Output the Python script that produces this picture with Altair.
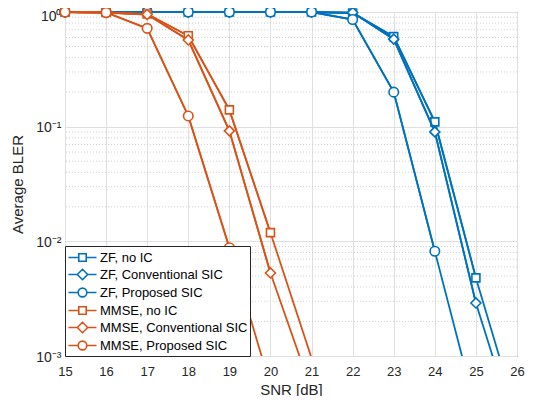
import altair as alt
import pandas as pd

snr = [15, 16, 17, 18, 19, 20, 21, 22, 23, 24, 25, 26]

series_names = [
    "ZF, no IC",
    "ZF, Conventional SIC",
    "ZF, Proposed SIC",
    "MMSE, no IC",
    "MMSE, Conventional SIC",
    "MMSE, Proposed SIC",
]

zf_no_ic = [1.0, 1.0, 1.0, 1.0, 1.0, 1.0, 1.0, 0.98, 0.61, 0.11, 0.0048, 0.0003]
zf_conv_sic = [1.0, 1.0, 1.0, 1.0, 1.0, 1.0, 1.0, 0.99, 0.58, 0.09, 0.0029, 0.00021]
zf_prop_sic = [1.0, 1.0, 1.0, 1.0, 1.0, 1.0, 1.0, 0.86, 0.2, 0.0082, 0.00034]
mmse_no_ic = [1.0, 0.99, 0.96, 0.62, 0.14, 0.0119, 0.00096]
mmse_conv_sic = [1.0, 0.99, 0.95, 0.57, 0.092, 0.0053, 0.0005]
mmse_prop_sic = [1.0, 0.99, 0.72, 0.124, 0.0088, 0.00055]

series_values = [zf_no_ic, zf_conv_sic, zf_prop_sic, mmse_no_ic, mmse_conv_sic, mmse_prop_sic]

blue = "#0072BD"
orange = "#D95319"
series_colors = [blue, blue, blue, orange, orange, orange]
series_shapes = ["square", "diamond", "circle", "square", "diamond", "circle"]
marker_sizes = [64, 100, 90, 64, 100, 90]

x_ticks = [15, 16, 17, 18, 19, 20, 21, 22, 23, 24, 25, 26]
y_ticks = [1.0, 0.1, 0.01, 0.001]
y_tick_labels = ["10⁰", "10⁻¹", "10⁻²", "10⁻³"]
y_minor = [0.002, 0.003, 0.004, 0.005, 0.006, 0.007, 0.008, 0.009,
           0.02, 0.03, 0.04, 0.05, 0.06, 0.07, 0.08, 0.09,
           0.2, 0.3, 0.4, 0.5, 0.6, 0.7, 0.8, 0.9]

# legend symbols: line through marker
legend_paths = [
    "M-1.62,0L-0.43,0M0.43,0L1.62,0M-0.43,-0.43L0.43,-0.43L0.43,0.43L-0.43,0.43Z",
    "M-1.62,0L-0.6,0M0.6,0L1.62,0M-0.6,0L0,-0.6L0.6,0L0,0.6Z",
    "M-1.62,0L-0.5,0M0.5,0L1.62,0M-0.5,0A0.5,0.5 0 1,1 0.5,0A0.5,0.5 0 1,1 -0.5,0Z",
    "M-1.62,0L-0.43,0M0.43,0L1.62,0M-0.43,-0.43L0.43,-0.43L0.43,0.43L-0.43,0.43Z",
    "M-1.62,0L-0.6,0M0.6,0L1.62,0M-0.6,0L0,-0.6L0.6,0L0,0.6Z",
    "M-1.62,0L-0.5,0M0.5,0L1.62,0M-0.5,0A0.5,0.5 0 1,1 0.5,0A0.5,0.5 0 1,1 -0.5,0Z",
]

FONT = "Liberation Sans"
TEXT = "#262626"

label_expr = " : ".join(
    f"datum.value > {v * 0.5} ? '{lab}'" for v, lab in zip(y_ticks[:-1], y_tick_labels[:-1])
) + f" : '{y_tick_labels[-1]}'"

x_scale = alt.Scale(domain=[15, 26], nice=False, zero=False)
y_scale = alt.Scale(type="log", domain=[0.001, 1.0], nice=False)

x_axis = alt.Axis(
    values=x_ticks, title="SNR [dB]", grid=True, gridColor="#e0e0e0", gridWidth=1,
    ticks=False, domain=False, labelFont=FONT, labelFontSize=13, labelColor=TEXT,
    labelPadding=9, titleFont=FONT, titleFontSize=15, titleFontWeight="normal",
    titleColor=TEXT, titlePadding=4, labelFlush=False,
)
y_axis = alt.Axis(
    values=y_ticks, title="Average BLER", grid=True, gridColor="#e0e0e0", gridWidth=1,
    ticks=False, domain=False, labelFont=FONT, labelFontSize=14, labelColor=TEXT,
    labelPadding=4, labelExpr=label_expr,
    labelOffset={"condition": {"test": "datum.value > 0.5", "value": 4}, "value": 1},
    titleFont=FONT, titleFontSize=15,
    titleFontWeight="normal", titleColor=TEXT, titlePadding=10, labelFlush=False,
)

layers = []

minor_df = pd.DataFrame({"v": y_minor})
layers.append(
    alt.Chart(minor_df).mark_rule(color="#cfcfcf", strokeDash=[1, 2], strokeWidth=1).encode(
        y=alt.Y("v:Q", scale=y_scale, axis=y_axis)
    )
)

for name, vals, col, shp, msz in zip(series_names, series_values, series_colors, series_shapes, marker_sizes):
    df = pd.DataFrame({"snr": snr[: len(vals)], "bler": vals})
    base = alt.Chart(df).encode(
        x=alt.X("snr:Q", scale=x_scale, axis=x_axis),
        y=alt.Y("bler:Q", scale=y_scale, axis=y_axis),
    )
    # full line, clipped to the plot area (segments leaving the bottom)
    layers.append(base.mark_line(color=col, strokeWidth=1.8, clip=True))
    # in-range part drawn unclipped so the lines along the top edge keep full width
    layers.append(base.transform_filter("datum.bler >= 0.001").mark_line(color=col, strokeWidth=1.8))
    layers.append(
        base.transform_filter("datum.bler >= 0.001").mark_point(
            shape=shp, size=msz, color=col, fill="white", filled=False,
            strokeWidth=1.6, opacity=1,
        )
    )

legend_df = pd.DataFrame({"series": series_names})
layers.append(
    alt.Chart(legend_df).transform_filter("false").mark_point(fill="white", filled=False, strokeWidth=1.6, opacity=1).encode(
        color=alt.Color("series:N", scale=alt.Scale(domain=series_names, range=series_colors), legend=alt.Legend(title=None)),
        shape=alt.Shape("series:N", scale=alt.Scale(domain=series_names, range=legend_paths), legend=alt.Legend(title=None)),
    )
)

chart = alt.layer(*layers).properties(
    width=452, height=344,
    padding={"left": 57, "top": 4, "right": 8, "bottom": 40},
    autosize="none",
).configure_view(
    stroke=TEXT, strokeWidth=1,
).configure_legend(
    orient="bottom-left", offset=0, direction="vertical",
    padding=2, rowPadding=0, strokeColor=TEXT, fillColor="white",
    labelFont=FONT, labelFontSize=13, labelColor="#000000", labelLimit=400,
    symbolSize=300, symbolStrokeWidth=1.6, symbolFillColor="white",
    symbolOffset=6, labelOffset=8, cornerRadius=0,
)

chart.save("out.html", embed_options={"renderer": "svg", "actions": False})
